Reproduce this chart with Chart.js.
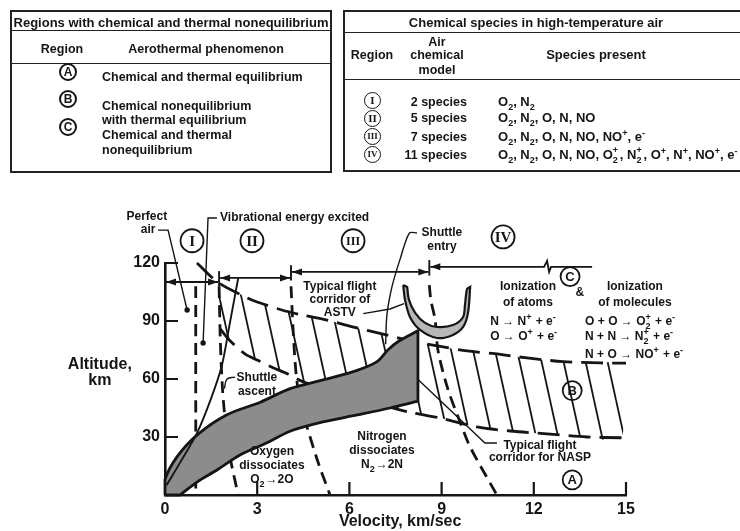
<!DOCTYPE html>
<html>
<head>
<meta charset="utf-8">
<title>Velocity-altitude map</title>
<script src="https://cdn.jsdelivr.net/npm/chart.js@4.4.1/dist/chart.umd.min.js"></script>
<style>
  html, body { margin: 0; padding: 0; background: #fff; }
  body { width: 740px; height: 531px; overflow: hidden; position: relative;
         font-family: "Liberation Sans", Arial, Helvetica, sans-serif; font-weight: bold; color: #151515; }
  #map { position: absolute; left: 0; top: 0; }
  .frame { position: absolute; border: 2px solid #222; box-sizing: border-box; }
  .rule { position: absolute; border-top: 1.5px solid #222; height: 0; }
  .txt { position: absolute; white-space: nowrap; font-size: 12.5px; line-height: 16px; }
  .c { text-align: center; }
  .r { text-align: right; }
  .ring { position: absolute; box-sizing: border-box; border: 2px solid #151515; border-radius: 50%;
          text-align: center; font-size: 11px; }
  .roman { font-family: "Liberation Serif", "DejaVu Serif", serif; border-width: 1.6px; }
  .sp { display: inline-block; position: relative; width: 7px; height: 10px; }
  .sp i { position: absolute; left: 0; font-style: normal; font-size: 9px; line-height: 9px; }
  sub, sup { font-size: 9px; line-height: 0; }
</style>
</head>
<body>
<canvas id="map" width="740" height="531"></canvas>

<!-- regions table -->
<div class="frame" style="left:10px; top:10px; width:322px; height:163px"></div>
<div class="rule" style="left:10px; top:30px; width:322px"></div>
<div class="rule" style="left:10px; top:63px; width:322px"></div>
<div class="txt c" style="left:10px; top:15px; width:322px; font-size:13px">Regions with chemical and thermal nonequilibrium</div>
<div class="txt c" style="left:32px; top:41px; width:60px">Region</div>
<div class="txt c" style="left:106px; top:41px; width:200px">Aerothermal phenomenon</div>
<div class="ring" style="left:59px; top:63px; width:18px; height:18px; line-height:14px; font-size:12px">A</div>
<div class="ring" style="left:59px; top:90px; width:18px; height:18px; line-height:14px; font-size:12px">B</div>
<div class="ring" style="left:59px; top:118px; width:18px; height:18px; line-height:14px; font-size:12px">C</div>
<div class="txt" style="left:102px; top:69px">Chemical and thermal equilibrium</div>
<div class="txt" style="left:102px; top:98px">Chemical nonequilibrium</div>
<div class="txt" style="left:102px; top:112px">with thermal equilibrium</div>
<div class="txt" style="left:102px; top:127px">Chemical and thermal</div>
<div class="txt" style="left:102px; top:142px">nonequilibrium</div>

<!-- species table -->
<div class="frame" style="left:343px; top:10px; width:420px; height:162px"></div>
<div class="rule" style="left:343px; top:32px; width:420px"></div>
<div class="rule" style="left:343px; top:79px; width:420px"></div>
<div class="txt c" style="left:386px; top:15px; width:300px; font-size:13px">Chemical species in high-temperature air</div>
<div class="txt c" style="left:342px; top:47px; width:60px">Region</div>
<div class="txt c" style="left:407px; top:34px; width:60px">Air</div>
<div class="txt c" style="left:407px; top:47px; width:60px">chemical</div>
<div class="txt c" style="left:407px; top:62px; width:60px">model</div>
<div class="txt c" style="left:546px; top:47px; width:100px; font-size:13px">Species present</div>
<div class="ring roman" style="left:364px; top:92px; width:17px; height:17px; line-height:14px">I</div>
<div class="ring roman" style="left:364px; top:110px; width:17px; height:17px; line-height:14px">II</div>
<div class="ring roman" style="left:364px; top:128px; width:17px; height:17px; line-height:14px; font-size:9px">III</div>
<div class="ring roman" style="left:364px; top:146px; width:17px; height:17px; line-height:14px; font-size:9px">IV</div>
<div class="txt r" style="left:397px; top:94px; width:70px">2 species</div>
<div class="txt r" style="left:397px; top:110px; width:70px">5 species</div>
<div class="txt r" style="left:397px; top:129px; width:70px">7 species</div>
<div class="txt r" style="left:397px; top:147px; width:70px">11 species</div>
<div class="txt" style="left:498px; top:94px; font-size:13px">O<sub>2</sub>, N<sub>2</sub></div>
<div class="txt" style="left:498px; top:110px; font-size:13px">O<sub>2</sub>, N<sub>2</sub>, O, N, NO</div>
<div class="txt" style="left:498px; top:129px; font-size:13px">O<sub>2</sub>, N<sub>2</sub>, O, N, NO, NO<sup>+</sup>, e<sup>-</sup></div>
<div class="txt" style="left:498px; top:147px; font-size:13px">O<sub>2</sub>, N<sub>2</sub>, O, N, NO, O<span class="sp"><i style="top:-3px">+</i><i style="top:7px">2</i></span>, N<span class="sp"><i style="top:-3px">+</i><i style="top:7px">2</i></span>, O<sup>+</sup>, N<sup>+</sup>, NO<sup>+</sup>, e<sup>-</sup></div>

<script>
const ink = '#151515';
const sans = '"Liberation Sans", Arial, Helvetica, sans-serif';
const serif = '"Liberation Serif", "DejaVu Serif", serif';

// axes
const xTicks = [0, 3, 6, 9, 12, 15];
const yTicks = [30, 60, 90, 120];
const xTitle = 'Velocity, km/sec';
const yTitle = ['Altitude,', 'km'];

// region boundaries, [velocity km/s, altitude km]
const perfectAirLimit = [[1.0, 108], [1.0, 0]];
const oxygenDissociation = [[1.76, 108], [1.8, 80], [1.87, 55], [1.97, 37], [2.1, 21], [2.38, 0]];
const nitrogenDissociation = [[4.1, 108], [4.17, 85], [4.27, 62], [4.43, 45], [4.65, 33.6], [5.0, 16], [5.37, 0]];
const ionizationOnset = [[8.6, 108.6], [8.65, 100.9], [8.79, 90.5], [8.88, 75], [9.2, 55], [9.6, 37.8], [9.93, 24.8], [10.8, 0]];

// NASP flight corridor
const naspUpper = [[1.04, 120], [1.72, 110], [2.67, 102], [3.0, 99.8], [3.8, 95.7], [4.5, 93], [5.27, 90.5], [6.1, 87],
  [7.2, 82.8], [8.2, 79], [9.05, 76.6], [9.83, 74.5], [10.64, 73.2], [11.78, 70.9], [12.95, 69], [14.16, 68.3], [15, 68.2]];
const naspLower = [[1.79, 86], [2.1, 80], [2.6, 73], [3.0, 69.8], [3.5, 66], [4.0, 62.6], [4.5, 58.5], [5.5, 53], [6.5, 48.5],
  [7.4, 45], [8.07, 42.4], [8.95, 39.8], [10.15, 35.2], [11.23, 33.1], [12.43, 31.6], [13.73, 30], [14.87, 29.6]];

// Shuttle entry band and ascent path
const entryUpper = [[0, 8], [0.39, 19.7], [1.04, 31], [2.0, 41.4], [3.1, 48], [4.07, 55], [5.14, 59.5], [6.25, 64.5],
  [6.9, 69], [7.25, 75], [7.6, 79.5], [8.23, 85]];
const entryLower = [[0.49, 0], [1.04, 6.7], [1.69, 12.9], [2.44, 20.7], [3.32, 27], [4.07, 33], [5.14, 37.8], [6.25, 41.4],
  [7.32, 45], [8.23, 48.5]];
const shuttleAscent = [[0.05, 5], [0.5, 17], [1.04, 32], [1.5, 50], [1.85, 67], [2.1, 88], [2.38, 112]];

// ASTV aerobraking corridor (outer edge left to right, inner edge right to left)
const astvOuter = [[7.75, 108.6], [7.81, 100.9], [7.97, 92.1], [8.3, 85.4], [8.85, 81.2], [9.37, 82.8], [9.7, 86.9],
  [9.86, 94.2], [9.93, 107.6]];
const astvInner = [[9.83, 106.6], [9.76, 98.3], [9.7, 92.1], [9.37, 87.9], [8.85, 86.9], [8.46, 89], [8.14, 94.2],
  [7.94, 100.9], [7.88, 107.6]];

// leader lines from labels
const perfectAirLeader = [[-0.23, 137], [0.1, 137], [0.72, 95.7]];
const vibrationLeader = [[1.69, 143.3], [1.4, 143.3], [1.24, 78.6]];
const astvLeader = [[6.45, 93.8], [7.32, 96.2], [7.78, 99]];
const entryLeader = [[8.2, 135.5], [7.95, 135.5], [7.65, 122], [7.39, 108], [7.22, 93], [7.18, 78]];
const ascentLeader = [[2.28, 61], [2.02, 60], [1.93, 55]];
const naspLeader = [[8.25, 59.5], [10.41, 26.9], [10.8, 26.9]];

// chemical model regions along the top
const regionArrows = [
  { from: 0, to: 1.76, alt: 110.2 },
  { from: 1.76, to: 4.1, alt: 112.3 },
  { from: 4.1, to: 8.6, alt: 115.4 },
  { from: 8.6, to: 13.93, alt: 118, open: true, breakAt: 12.4 }
];
const regionMarks = [['I', 0.88, 131.5], ['II', 2.83, 131.5], ['III', 6.12, 131.5], ['IV', 11.0, 133.5]];
const zoneMarks = [['A', 13.25, 7.8], ['B', 13.25, 54], ['C', 13.18, 113]];

const notes = [
  ['Perfect', -0.59, 143.8], ['air', -0.55, 137],
  ['Vibrational energy excited', 1.79, 143.3, 'left'],
  ['Typical flight', 5.69, 107.6], ['corridor of', 5.69, 100.9], ['ASTV', 5.69, 94.2],
  ['Shuttle', 9.01, 135.5], ['entry', 9.01, 128.3],
  ['Ionization', 11.81, 108], ['of atoms', 11.81, 99.3],
  ['Ionization', 15.29, 108], ['of molecules', 15.29, 99.3], ['&', 13.5, 104.5],
  ['Shuttle', 2.99, 60.5], ['ascent', 2.99, 53.3],
  ['Oxygen', 3.48, 22.2], ['dissociates', 3.48, 15],
  ['Nitrogen', 7.06, 30], ['dissociates', 7.06, 22.8],
  ['Typical flight', 12.2, 25.3], ['corridor for NASP', 12.2, 19.1]
];
const reactions = [
  [['O', { sub: '2' }, '→2O'], 3.48, 7.8, 'center'],
  [['N', { sub: '2' }, '→2N'], 7.06, 15.5, 'center'],
  [['N → N', { sup: '+' }, ' + e', { sup: '-' }], 10.58, 89.5, 'left'],
  [['O → O', { sup: '+' }, ' + e', { sup: '-' }], 10.58, 81.7, 'left'],
  [['O + O → O', { sup: '+', sub: '2' }, ' + e', { sup: '-' }], 13.67, 89.5, 'left'],
  [['N + N → N', { sup: '+', sub: '2' }, ' + e', { sup: '-' }], 13.67, 81.7, 'left'],
  [['N + O → NO', { sup: '+' }, ' + e', { sup: '-' }], 13.67, 72.4, 'left']
];

const pts = arr => arr.map(([x, y]) => ({ x, y }));
const last = arr => arr[arr.length - 1];

// closed outlines for the filled areas; repeated points keep the corners sharp
const hatchOutline = [...naspUpper.filter(p => p[0] >= 1.72), ...naspLower.slice().reverse()];
hatchOutline.push(hatchOutline[0]);
const entryOutline = [[0, 0], ...entryUpper, last(entryUpper), last(entryLower), last(entryLower),
  ...entryLower.slice().reverse(), entryLower[0], [0, 0]];
const astvOutline = [astvOuter[0], ...astvOuter, last(astvOuter), ...astvInner, last(astvInner), astvOuter[0]];

const canvas = document.getElementById('map');
const tile = document.createElement('canvas');
tile.width = 22; tile.height = 100;
const tg = tile.getContext('2d');
tg.strokeStyle = ink; tg.lineWidth = 1.8;
for (const dx of [-22, 0, 22]) { tg.beginPath(); tg.moveTo(dx, 0); tg.lineTo(dx + 22, 100); tg.stroke(); }
const hatch = canvas.getContext('2d').createPattern(tile, 'repeat');

const line = (data, o = {}) => Object.assign({
  data: pts(data), borderColor: ink, borderWidth: 2, pointRadius: 0, fill: false, tension: 0, clip: false
}, o);
const dashed = (data, dash) => line(data, { borderDash: dash, borderWidth: 2.8, tension: 0.3, order: 15 });
const leader = data => line(data, { borderWidth: 1.4, order: 5 });
const dotted = data => line(data, { borderWidth: 1.4, order: 5, pointRadius: data.map((p, i) => i === data.length - 1 ? 2.7 : 0),
  pointBackgroundColor: ink, pointBorderWidth: 0 });

function richText(ctx, parts, x, y, size, align) {
  const big = `bold ${size}px ${sans}`, small = `bold ${Math.round(size * 0.72)}px ${sans}`;
  const widths = parts.map(p => {
    if (typeof p === 'string') { ctx.font = big; return ctx.measureText(p).width; }
    ctx.font = small;
    return Math.max(...[p.sup, p.sub].filter(Boolean).map(s => ctx.measureText(s).width)) + 1;
  });
  const total = widths.reduce((a, b) => a + b, 0);
  let cx = align === 'center' ? x - total / 2 : align === 'right' ? x - total : x;
  ctx.textAlign = 'left';
  ctx.textBaseline = 'middle';
  parts.forEach((p, i) => {
    if (typeof p === 'string') { ctx.font = big; ctx.fillText(p, cx, y); }
    else {
      ctx.font = small;
      if (p.sup) ctx.fillText(p.sup, cx, y - size * 0.4);
      if (p.sub) ctx.fillText(p.sub, cx, y + size * 0.38);
    }
    cx += widths[i];
  });
}

const overlay = {
  id: 'overlay',
  afterDatasetsDraw(chart) {
    const { ctx, scales: { x, y } } = chart;
    const X = v => x.getPixelForValue(v);
    const Y = h => y.getPixelForValue(h);
    ctx.save();
    ctx.strokeStyle = ink;
    ctx.fillStyle = ink;

    // tick marks point into the plot
    ctx.lineWidth = 2.2;
    ctx.beginPath();
    yTicks.forEach(t => { ctx.moveTo(X(0), Y(t)); ctx.lineTo(X(0) + 13, Y(t)); });
    xTicks.filter(t => t > 0).forEach(t => { ctx.moveTo(X(t), Y(0)); ctx.lineTo(X(t), Y(0) - 13); });
    ctx.stroke();

    // region arrows
    const head = (xt, yt, dir) => {
      ctx.beginPath();
      ctx.moveTo(xt, yt);
      ctx.lineTo(xt - dir * 10, yt - 3.5);
      ctx.lineTo(xt - dir * 10, yt + 3.5);
      ctx.closePath();
      ctx.fill();
    };
    ctx.lineWidth = 1.9;
    regionArrows.forEach(a => {
      const x1 = X(a.from) + 1, x2 = X(a.to) - 1, ya = Y(a.alt);
      ctx.beginPath();
      if (a.breakAt) {
        const xb = X(a.breakAt);
        ctx.moveTo(x1, ya); ctx.lineTo(xb - 2, ya);
        ctx.lineTo(xb + 1, ya - 6); ctx.lineTo(xb + 3, ya + 5); ctx.lineTo(xb + 5, ya);
        ctx.lineTo(x2, ya);
      } else {
        ctx.moveTo(x1, ya); ctx.lineTo(x2, ya);
      }
      ctx.stroke();
      head(x1, ya, -1);
      if (!a.open) head(x2, ya, 1);
      if (a.from > 0) {
        ctx.beginPath();
        ctx.moveTo(X(a.from), Y(a.alt - 4.5));
        ctx.lineTo(X(a.from), Y(a.alt + 3.5));
        ctx.stroke();
      }
    });

    // circled region and zone markers
    const ring = (txt, v, h, r, f) => {
      ctx.lineWidth = 1.8;
      ctx.beginPath();
      ctx.arc(X(v), Y(h), r, 0, Math.PI * 2);
      ctx.stroke();
      ctx.font = f;
      ctx.textAlign = 'center';
      ctx.textBaseline = 'middle';
      ctx.fillText(txt, X(v), Y(h) + 1);
    };
    regionMarks.forEach(([t, v, h]) => ring(t, v, h, 11.5, `bold ${t.length > 2 ? 12 : 15}px ${serif}`));
    zoneMarks.forEach(([t, v, h]) => ring(t, v, h, 9.5, `bold 13px ${sans}`));

    // annotations
    ctx.textBaseline = 'middle';
    notes.forEach(([t, v, h, align]) => {
      ctx.font = `bold 12px ${sans}`;
      ctx.textAlign = align || 'center';
      ctx.fillText(t, X(v), Y(h));
    });
    reactions.forEach(([parts, v, h, align]) => richText(ctx, parts, X(v), Y(h), 12, align));

    // axis titles
    ctx.font = `bold 16px ${sans}`;
    ctx.textAlign = 'center';
    ctx.fillText(yTitle[0], X(-2.12), Y(67.3));
    ctx.fillText(yTitle[1], X(-2.12), Y(59));
    ctx.fillText(xTitle, X(7.65), Y(-14));
    ctx.restore();
  }
};

new Chart(canvas, {
  type: 'line',
  data: {
    datasets: [
      line(hatchOutline, { borderWidth: 0, borderColor: 'rgba(0,0,0,0)', backgroundColor: hatch, fill: 'shape', tension: 0.3, order: 20 }),
      dashed(perfectAirLimit, [12, 7]),
      dashed(oxygenDissociation, [12, 7]),
      dashed(nitrogenDissociation, [12, 7]),
      dashed(ionizationOnset, [12, 7]),
      dashed(naspUpper, [22, 9]),
      dashed(naspLower, [22, 9]),
      line(entryOutline, { backgroundColor: '#8c8c8c', fill: 'shape', borderWidth: 2.8, tension: 0.3, order: 10 }),
      line(shuttleAscent, { borderWidth: 1.9, tension: 0.3, order: 9 }),
      line(astvOutline, { backgroundColor: '#b7b7b7', fill: 'shape', borderWidth: 2.2, tension: 0.3, order: 8 }),
      dotted(perfectAirLeader),
      dotted(vibrationLeader),
      leader(astvLeader),
      line(entryLeader, { borderWidth: 1.4, tension: 0.3, order: 5 }),
      line(ascentLeader, { borderWidth: 1.4, tension: 0.4, order: 5 }),
      leader(naspLeader)
    ]
  },
  options: {
    responsive: false,
    animation: false,
    events: [],
    layout: { padding: { left: 120, right: 114, top: 263, bottom: 6 } },
    plugins: { legend: { display: false }, tooltip: { enabled: false } },
    scales: {
      x: {
        type: 'linear', min: 0, max: 15,
        afterBuildTicks: s => { s.ticks = xTicks.map(value => ({ value })); },
        afterFit: s => { s.height = 30; },
        grid: { display: false, drawTicks: false },
        border: { display: true, color: ink, width: 2.6 },
        ticks: { color: ink, padding: 5, maxRotation: 0, font: { family: sans, size: 16, weight: 'bold' } }
      },
      y: {
        type: 'linear', min: 0, max: 120,
        afterBuildTicks: s => { s.ticks = yTicks.map(value => ({ value })); },
        afterFit: s => { s.width = 45; },
        grid: { display: false, drawTicks: false },
        border: { display: true, color: ink, width: 2.6 },
        ticks: { color: ink, padding: 5, font: { family: sans, size: 16, weight: 'bold' } }
      }
    }
  },
  plugins: [overlay]
});
</script>
</body>
</html>
